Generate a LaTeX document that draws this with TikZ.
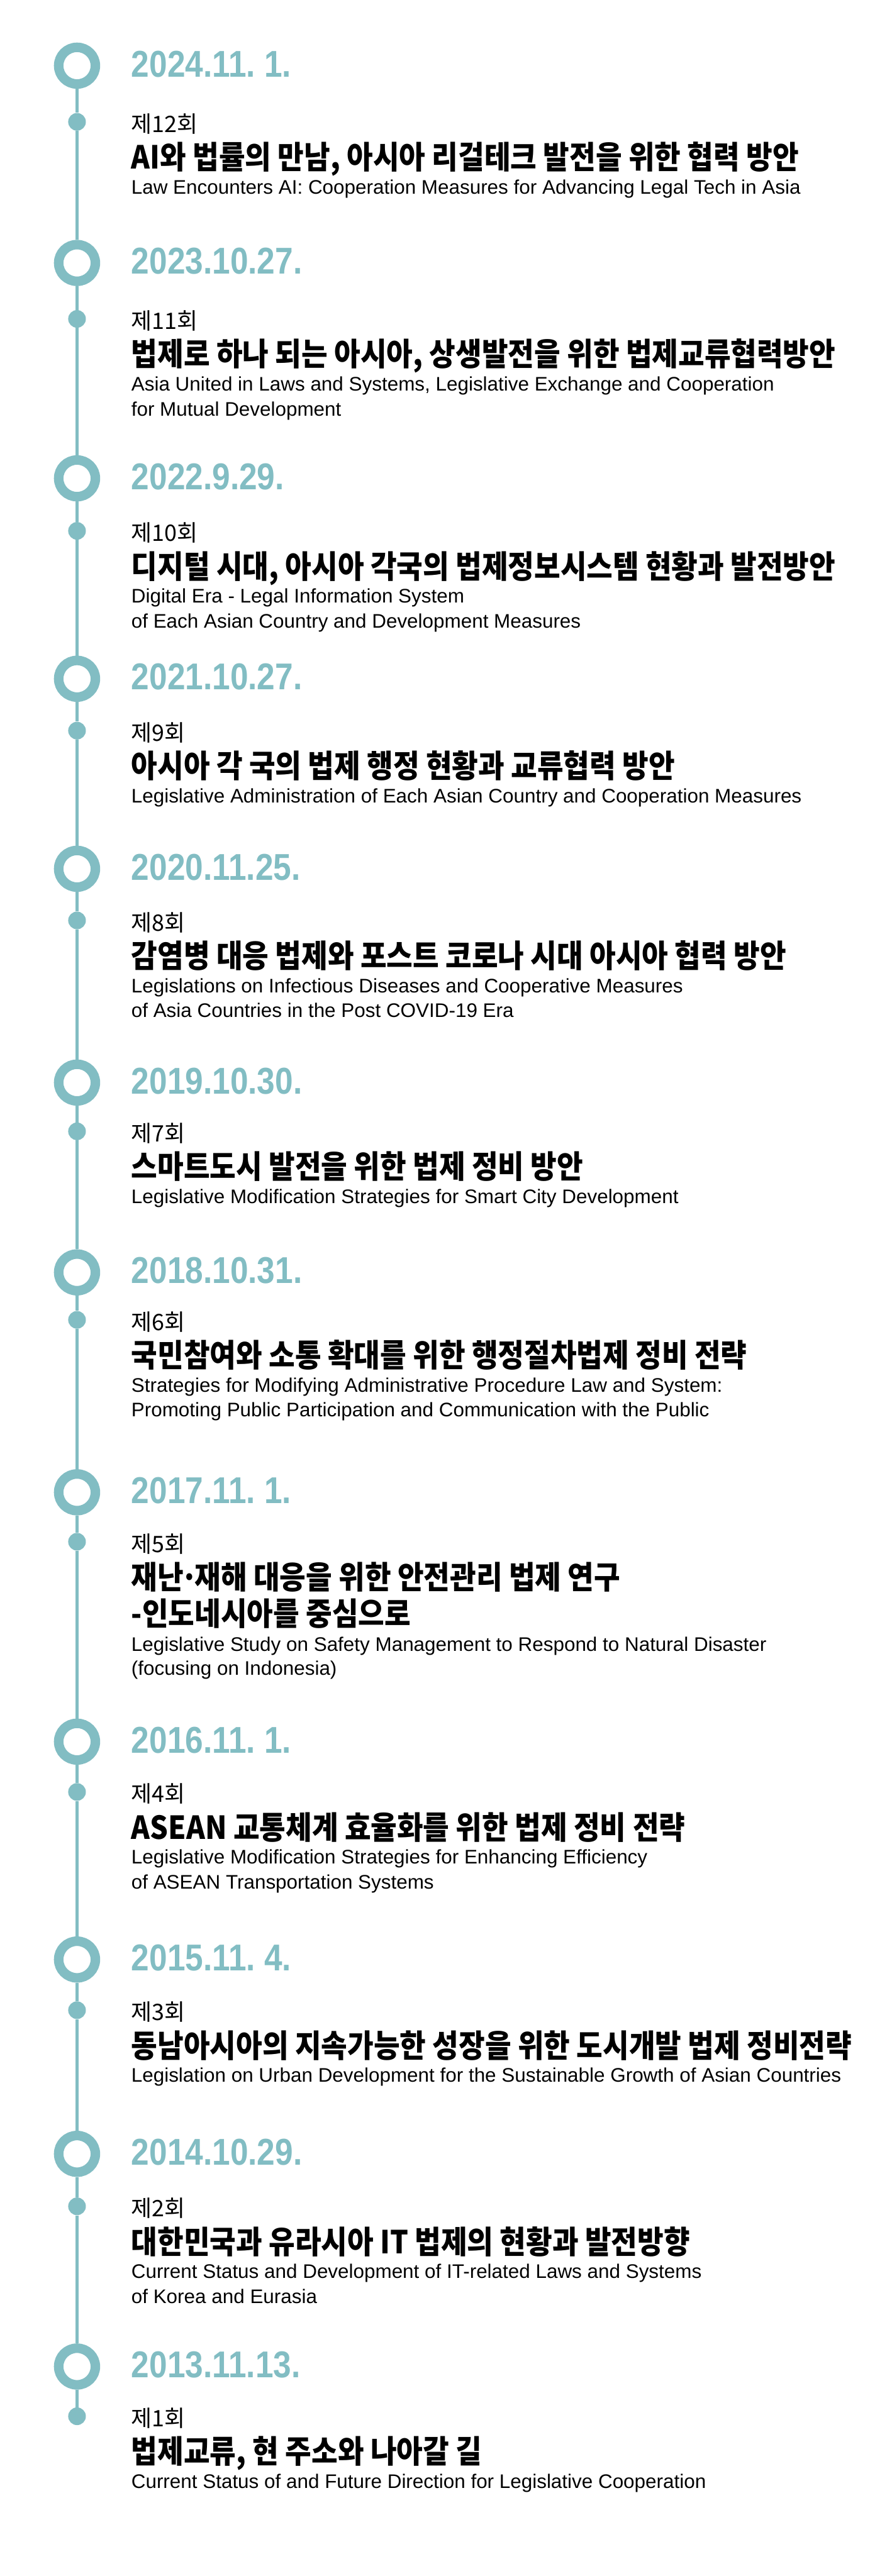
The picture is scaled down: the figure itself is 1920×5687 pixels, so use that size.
\documentclass[tikz,border=0pt]{standalone}
\usepackage{fontspec}
\usepackage{graphicx}
\newfontfamily\krfont{Noto Sans CJK KR}
\newfontfamily\enfont{Liberation Sans}
\definecolor{tl}{RGB}{130,189,195}
\frenchspacing
\newcommand\DateFont{\frenchspacing\enfont\bfseries\fontsize{41.2pt}{46pt}\selectfont}
\newcommand\NumFont{\krfont\fontsize{25pt}{30pt}\selectfont}
\newcommand\TitleFont{\frenchspacing\krfont\bfseries\fontsize{35pt}{40pt}\selectfont}
\newcommand\EngFont{\frenchspacing\enfont\fontsize{21.65pt}{26pt}\selectfont}
\newcommand\mdot{\kern-4pt·\kern-4pt}
\newsavebox\measbox
\newlength\measlen
\AtBeginDocument{%
\sbox\measbox{\DateFont 2023.10.27.}\setlength\measlen{\wd\measbox}%
\pgfmathsetmacro\sxDate{188.5/\measlen}%
\global\let\sxDate\sxDate
\sbox\measbox{\NumFont 제12회}\setlength\measlen{\wd\measbox}%
\pgfmathsetmacro\sxNum{73.5/\measlen}%
\global\let\sxNum\sxNum
\sbox\measbox{\TitleFont AI와 법률의 만남, 아시아 리걸테크 발전을 위한 협력 방안}\setlength\measlen{\wd\measbox}%
\pgfmathsetmacro\sxTitle{736.5/\measlen}%
\global\let\sxTitle\sxTitle
\sbox\measbox{\EngFont Law Encounters AI: Cooperation Measures for Advancing Legal Tech in Asia}\setlength\measlen{\wd\measbox}%
\pgfmathsetmacro\sxEng{738.5/\measlen}%
\global\let\sxEng\sxEng
}
\newcommand\DateText[1]{\scalebox{\sxDate}[1]{\DateFont\color{tl}#1}}
\newcommand\NumText[1]{\scalebox{\sxNum}[1]{\NumFont #1}}
\newcommand\TitleText[1]{\scalebox{\sxTitle}[1]{\TitleFont #1}}
\newcommand\EngText[1]{\scalebox{\sxEng}[1]{\EngFont #1}}
\tikzset{
  ring/.style={circle, draw=tl, fill=white, line width=10.5pt, minimum size=40.5pt, inner sep=0pt},
  tldot/.style={circle, fill=tl, minimum size=19.5pt, inner sep=0pt},
  tlline/.style={draw=tl, line width=3.75pt},
  txt/.style={anchor=base west, inner sep=0pt, outer sep=0pt, text=black},
}
\newcommand\tlentry[5]{%
  \node[ring] (c#1) at (170,#2) {};
  \node[tldot] (d#1) at (170,#3) {};
  \node[txt] (date#1) at (290,#2+24.5) {\DateText{#4}};
  \node[txt] (n#1) at (290,#3+23) {\NumText{#5}};
}
\begin{document}
\begin{tikzpicture}[x=0.5pt,y=-0.5pt]
\fill[white] (0,0) rectangle (1920,5687);
\useasboundingbox (0,0) rectangle (1920,5687);

% 1
\tlentry{1}{145}{269}{2024.11. 1.}{제12회}
\node[txt] (t1) at (290,269+104) {\TitleText{AI와 법률의 만남, 아시아 리걸테크 발전을 위한 협력 방안}};
\node[txt] (e1) at (290,269+159) {\EngText{Law Encounters AI: Cooperation Measures for Advancing Legal Tech in Asia}};
% 2
\tlentry{2}{580.5}{704}{2023.10.27.}{제11회}
\node[txt] (t2) at (290,704+104) {\TitleText{법제로 하나 되는 아시아, 상생발전을 위한 법제교류협력방안}};
\node[txt] (e2) at (290,704+159) {\EngText{Asia United in Laws and Systems, Legislative Exchange and Cooperation}};
\node[txt] (e2b) at (290,704+214) {\EngText{for Mutual Development}};
% 3
\tlentry{3}{1056}{1172}{2022.9.29.}{제10회}
\node[txt] (t3) at (290,1172+104) {\TitleText{디지털 시대, 아시아 각국의 법제정보시스템 현황과 발전방안}};
\node[txt] (e3) at (290,1172+159) {\EngText{Digital Era - Legal Information System}};
\node[txt] (e3b) at (290,1172+214) {\EngText{of Each Asian Country and Development Measures}};
% 4
\tlentry{4}{1498.5}{1613}{2021.10.27.}{제9회}
\node[txt] (t4) at (290,1613+104) {\TitleText{아시아 각 국의 법제 행정 현황과 교류협력 방안}};
\node[txt] (e4) at (290,1613+159) {\EngText{Legislative Administration of Each Asian Country and Cooperation Measures}};
% 5
\tlentry{5}{1918}{2032}{2020.11.25.}{제8회}
\node[txt] (t5) at (290,2032+104) {\TitleText{감염병 대응 법제와 포스트 코로나 시대 아시아 협력 방안}};
\node[txt] (e5) at (290,2032+159) {\EngText{Legislations on Infectious Diseases and Cooperative Measures}};
\node[txt] (e5b) at (290,2032+214) {\EngText{of Asia Countries in the Post COVID-19 Era}};
% 6
\tlentry{6}{2390}{2497.6}{2019.10.30.}{제7회}
\node[txt] (t6) at (290,2497.6+104) {\TitleText{스마트도시 발전을 위한 법제 정비 방안}};
\node[txt] (e6) at (290,2497.6+159) {\EngText{Legislative Modification Strategies for Smart City Development}};
% 7
\tlentry{7}{2809}{2913.8}{2018.10.31.}{제6회}
\node[txt] (t7) at (290,2913.8+104) {\TitleText{국민참여와 소통 확대를 위한 행정절차법제 정비 전략}};
\node[txt] (e7) at (290,2913.8+159) {\EngText{Strategies for Modifying Administrative Procedure Law and System:}};
\node[txt] (e7b) at (290,2913.8+214) {\EngText{Promoting Public Participation and Communication with the Public}};
% 8
\tlentry{8}{3294.5}{3403.6}{2017.11. 1.}{제5회}
\node[txt] (t8) at (290,3403.6+104) {\TitleText{재난\mdot 재해 대응을 위한 안전관리 법제 연구}};
\node[txt] (t8b) at (290,3403.6+185) {\TitleText{-인도네시아를 중심으로}};
\node[txt] (e8) at (290,3403.6+241) {\EngText{Legislative Study on Safety Management to Respond to Natural Disaster}};
\node[txt] (e8b) at (290,3403.6+295) {\EngText{(focusing on Indonesia)}};
% 9
\tlentry{9}{3845}{3956}{2016.11. 1.}{제4회}
\node[txt] (t9) at (290,3956+104) {\TitleText{ASEAN 교통체계 효율화를 위한 법제 정비 전략}};
\node[txt] (e9) at (290,3956+159) {\EngText{Legislative Modification Strategies for Enhancing Efficiency}};
\node[txt] (e9b) at (290,3956+214) {\EngText{of ASEAN Transportation Systems}};
% 10
\tlentry{10}{4326}{4437.8}{2015.11. 4.}{제3회}
\node[txt] (t10) at (290,4437.8+104) {\TitleText{동남아시아의 지속가능한 성장을 위한 도시개발 법제 정비전략}};
\node[txt] (e10) at (290,4437.8+159) {\EngText{Legislation on Urban Development for the Sustainable Growth of Asian Countries}};
% 11
\tlentry{11}{4755}{4870.8}{2014.10.29.}{제2회}
\node[txt] (t11) at (290,4870.8+104) {\TitleText{대한민국과 유라시아 IT 법제의 현황과 발전방향}};
\node[txt] (e11) at (290,4870.8+159) {\EngText{Current Status and Development of IT-related Laws and Systems}};
\node[txt] (e11b) at (290,4870.8+214) {\EngText{of Korea and Eurasia}};
% 12
\tlentry{12}{5224.5}{5334.3}{2013.11.13.}{제1회}
\node[txt] (t12) at (290,5334.3+104) {\TitleText{법제교류, 현 주소와 나아갈 길}};
\node[txt] (e12) at (290,5334.3+159) {\EngText{Current Status of and Future Direction for Legislative Cooperation}};

% connectors
\foreach \i in {1,...,12} { \draw[tlline] (c\i) -- (d\i); }
\foreach \i/\j in {1/2,2/3,3/4,4/5,5/6,6/7,7/8,8/9,9/10,10/11,11/12} { \draw[tlline] (d\i) -- (c\j); }
\end{tikzpicture}
\end{document}
